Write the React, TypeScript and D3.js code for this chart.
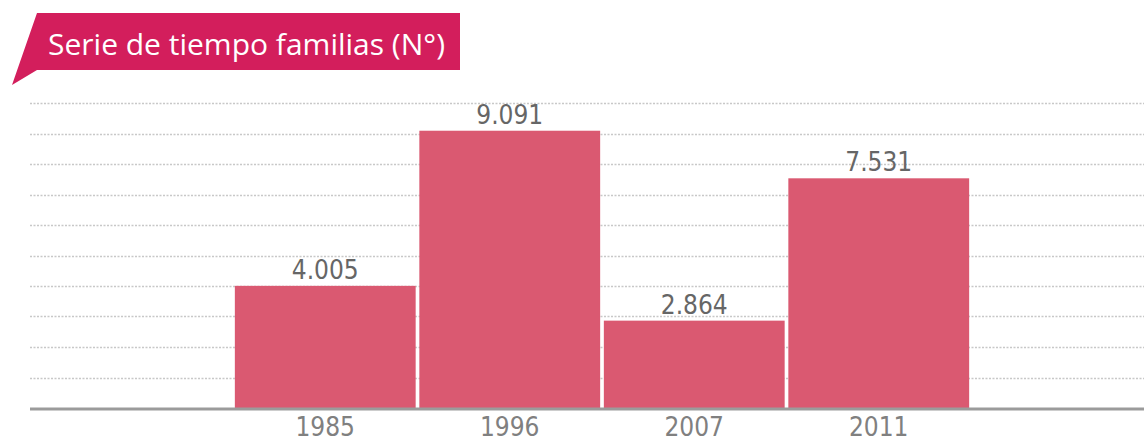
import React from "react";
import * as d3 from "d3";

const years = ["1985", "1996", "2007", "2011"];
const families = [4005, 9091, 2864, 7531];
const valueLabels = ["4.005", "9.091", "2.864", "7.531"];
const gridTicks = [1000, 2000, 3000, 4000, 5000, 6000, 7000, 8000, 9000, 10000];
const title = "Serie de tiempo familias (N°)";

const W = 1144;
const H = 442;

export default function App() {
  const y = d3.scaleLinear().domain([0, 10000]).range([408, 103]);
  const x = d3
    .scaleBand<string>()
    .domain(years)
    .range([233, 971])
    .paddingInner(0.02)
    .paddingOuter(0.01);

  const banner = d3.path();
  banner.moveTo(37, 13);
  banner.lineTo(460, 13);
  banner.lineTo(460, 70);
  banner.lineTo(37, 70);
  banner.lineTo(12, 85);
  banner.closePath();

  const numFont = "'DejaVu Sans Condensed', 'DejaVu Sans', sans-serif";

  return (
    <svg
      width={W}
      height={H}
      style={{ position: "absolute", left: 0, top: 0, display: "block", background: "#fff" }}
    >
      <path d={banner.toString()} fill="#d31e5c" />
      <text
        x={48}
        y={55}
        fill="#fff"
        fontFamily="'Open Sans', Lato, sans-serif"
        fontSize={30}
        style={{ fontVariantLigatures: "none" }}
      >
        {title}
      </text>

      {gridTicks.map((t) => (
        <line
          key={t}
          x1={30}
          x2={W}
          y1={Math.round(y(t)) + 0.5}
          y2={Math.round(y(t)) + 0.5}
          stroke="#c8c8c8"
          strokeWidth={1.5}
          strokeDasharray="2,1.5"
        />
      ))}

      {years.map((yr, i) => (
        <rect
          key={yr}
          x={x(yr)}
          y={y(families[i])}
          width={x.bandwidth()}
          height={y(0) - y(families[i])}
          fill="#da5971"
        />
      ))}

      <line x1={30} x2={W} y1={409} y2={409} stroke="#9b9b9b" strokeWidth={3} />

      {years.map((yr, i) => (
        <text
          key={"v" + yr}
          x={(x(yr) as number) + x.bandwidth() / 2}
          y={y(families[i]) - 7}
          textAnchor="middle"
          fill="#666"
          fontFamily={numFont}
          fontSize={26}
        >
          {valueLabels[i]}
        </text>
      ))}

      {years.map((yr) => (
        <text
          key={"l" + yr}
          x={(x(yr) as number) + x.bandwidth() / 2}
          y={436}
          textAnchor="middle"
          fill="#808080"
          fontFamily={numFont}
          fontSize={26}
        >
          {yr}
        </text>
      ))}
    </svg>
  );
}
